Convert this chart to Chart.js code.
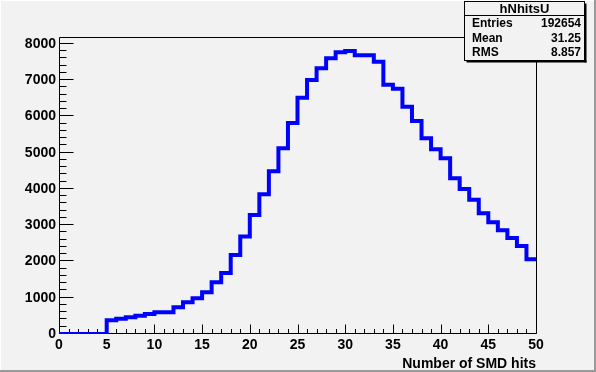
<!DOCTYPE html>
<html>
<head>
<meta charset="utf-8">
<script src="https://cdn.jsdelivr.net/npm/chart.js@4/dist/chart.umd.min.js"></script>
<style>
  html, body { margin: 0; padding: 0; background: #f2f2f2; }
  #wrap { width: 596px; height: 372px; position: relative; }
</style>
</head>
<body>
<div id="wrap"><canvas id="hist"></canvas></div>
<script>
// Histogram hNhitsU: one count per unit bin, 0..50
const binEdgesLow = [
  0, 1, 2, 3, 4, 5, 6, 7, 8, 9,
  10, 11, 12, 13, 14, 15, 16, 17, 18, 19,
  20, 21, 22, 23, 24, 25, 26, 27, 28, 29,
  30, 31, 32, 33, 34, 35, 36, 37, 38, 39,
  40, 41, 42, 43, 44, 45, 46, 47, 48, 49,
];
const counts = [
  0, 0, 0, 0, 0, 380, 420, 465, 500, 550,
  600, 600, 735, 875, 985, 1150, 1425, 1680, 2180, 2690,
  3280, 3855, 4490, 5125, 5820, 6515, 7005, 7330, 7605, 7770,
  7805, 7690, 7690, 7505, 6870, 6760, 6270, 5875, 5400, 5095,
  4845, 4295, 4000, 3700, 3330, 3080, 2860, 2650, 2430, 2060,
];
const xMin = 0;
const xMax = 50;
const yMax = 8190;
const xTickValues = [0, 5, 10, 15, 20, 25, 30, 35, 40, 45, 50];
const yTickValues = [0, 1000, 2000, 3000, 4000, 5000, 6000, 7000, 8000];

const histName = 'hNhitsU';
const statLabels = ['Entries', 'Mean', 'RMS'];
const statValues = ['192654', '31.25', '8.857'];
const xTitle = 'Number of SMD hits';

const FONT = '"Liberation Sans", Arial, Helvetica, sans-serif';

// histogram outline: left edge of each bin, plus closing upper edge
const histPoints = binEdgesLow.map((x, i) => ({ x: x, y: counts[i] }));
histPoints.push({ x: xMax, y: counts[counts.length - 1] });

// ROOT-style frame, inner ticks, pad background, stats box
const rootStyle = {
  id: 'rootStyle',
  beforeDraw(chart) {
    const { ctx, width, height } = chart;
    ctx.save();
    ctx.fillStyle = '#f2f2f2';
    ctx.fillRect(0, 0, width, height);
    // canvas bevel
    ctx.fillStyle = '#9a9a9a';
    ctx.fillRect(width - 2, 0, 2, height);
    ctx.fillRect(0, height - 2, width, 2);
    ctx.fillStyle = '#ffffff';
    ctx.fillRect(0, 0, width - 2, 1);
    ctx.fillRect(0, 0, 1, height - 2);
    ctx.restore();
  },
  beforeDatasetsDraw(chart) {
    const { ctx, chartArea: a, scales } = chart;
    const xs = scales.x;
    const ys = scales.y;
    const L = Math.round(a.left) + 0.5;
    const R = Math.round(a.right) + 0.5;
    const T = Math.round(a.top) + 0.5;
    const B = Math.round(a.bottom) - 0.5;
    ctx.save();
    ctx.strokeStyle = '#000';
    ctx.lineWidth = 1;
    ctx.beginPath();
    ctx.rect(L, T, R - L, B - T);
    ctx.stroke();

    ctx.beginPath();
    // x ticks: minor each bin, major each 5
    for (let v = xMin; v <= xMax; v += 1) {
      const px = Math.round(xs.getPixelForValue(v)) + 0.5;
      const len = v % 5 === 0 ? 9 : 4.5;
      ctx.moveTo(px, B);
      ctx.lineTo(px, B - len);
    }
    // y ticks: minor every 200, major every 1000
    for (let v = 0; v <= yMax; v += 200) {
      const py = Math.round(ys.getPixelForValue(v)) - 0.5;
      const len = v % 1000 === 0 ? 14 : 7;
      ctx.moveTo(L, py);
      ctx.lineTo(L + len, py);
    }
    ctx.stroke();
    ctx.restore();
  },
  afterDraw(chart) {
    const { ctx } = chart;
    const bx = 464.5, by = 1.5, bw = 120, bh = 59;
    ctx.save();
    // shadow
    ctx.fillStyle = '#000';
    ctx.fillRect(bx + 2, by + bh, bw, 2);
    ctx.fillRect(bx + bw, by + 2, 2, bh);
    ctx.fillStyle = '#f2f2f2';
    ctx.fillRect(bx, by, bw, bh);
    ctx.strokeStyle = '#000';
    ctx.lineWidth = 1;
    ctx.strokeRect(bx, by, bw, bh);
    ctx.beginPath();
    ctx.moveTo(bx, 15.5);
    ctx.lineTo(bx + bw, 15.5);
    ctx.stroke();

    ctx.fillStyle = '#000';
    ctx.font = 'bold 13px ' + FONT;
    ctx.textBaseline = 'middle';
    ctx.textAlign = 'center';
    ctx.fillText(histName, bx + bw / 2, 9);
    const rowY = [24, 39, 53];
    ctx.font = 'bold 12px ' + FONT;
    statLabels.forEach((lab, i) => {
      ctx.textAlign = 'left';
      ctx.fillText(lab, 472, rowY[i]);
      ctx.textAlign = 'right';
      ctx.fillText(statValues[i], 581, rowY[i]);
    });
    ctx.restore();
  },
};

new Chart(document.getElementById('hist'), {
  type: 'line',
  data: {
    datasets: [
      {
        label: histName,
        data: histPoints,
        stepped: 'before',
        borderColor: '#0000ff',
        borderWidth: 4,
        borderJoinStyle: 'miter',
        borderCapStyle: 'butt',
        pointRadius: 0,
        fill: false,
        tension: 0,
      },
    ],
  },
  options: {
    responsive: true,
    maintainAspectRatio: false,
    devicePixelRatio: 1,
    animation: false,
    events: [],
    layout: {
      padding: { left: 0, top: 37, right: 60, bottom: 0 },
    },
    scales: {
      x: {
        type: 'linear',
        min: xMin,
        max: xMax,
        afterFit: (s) => { s.height = 38; },
        afterBuildTicks: (s) => { s.ticks = xTickValues.map((v) => ({ value: v })); },
        grid: { display: false, drawTicks: false },
        border: { display: false },
        ticks: {
          padding: 3,
          autoSkip: false,
          maxRotation: 0,
          color: '#000',
          font: { family: FONT, size: 14, weight: 'bold' },
        },
        title: {
          display: true,
          text: xTitle,
          align: 'end',
          color: '#000',
          padding: { top: 0, bottom: -1 },
          font: { family: FONT, size: 14, weight: 'bold' },
        },
      },
      y: {
        type: 'linear',
        min: 0,
        max: yMax,
        afterFit: (s) => { s.width = 59; },
        afterBuildTicks: (s) => { s.ticks = yTickValues.map((v) => ({ value: v })); },
        grid: { display: false, drawTicks: false },
        border: { display: false },
        ticks: {
          padding: 3,
          autoSkip: false,
          color: '#000',
          font: { family: FONT, size: 14, weight: 'bold' },
          callback: (v) => String(v),
        },
      },
    },
    plugins: {
      legend: { display: false },
      tooltip: { enabled: false },
    },
  },
  plugins: [rootStyle],
});
</script>
</body>
</html>
